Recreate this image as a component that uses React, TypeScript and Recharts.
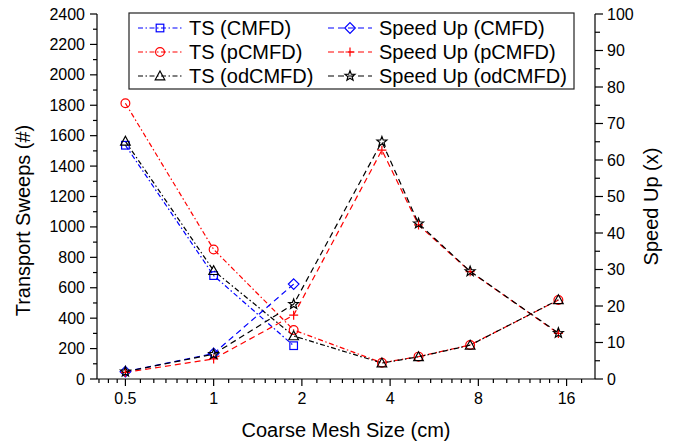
import React from 'react';
import { ComposedChart, Line, XAxis, YAxis, Customized } from 'recharts';

// coarse mesh sizes (cm)
const meshSizes = [0.5, 1, 1.875, 3.75, 5, 7.5, 15];

// transport sweeps (#)
const tsCmfd = [1537, 680, 219];
const tsPcmfd = [1813, 852, 322, 107, 147, 224, 519];
const tsOdcmfd = [1563, 712, 283, 105, 146, 222, 521];

// speed up (x)
const spCmfd = [2.0, 7.0, 26.0];
const spPcmfd = [1.8, 5.5, 17.5, 62.7, 42.2, 29.4, 12.5];
const spOdcmfd = [2.0, 6.8, 20.5, 65.0, 42.6, 29.5, 12.6];

const xTickLabels = [0.5, 1, 2, 4, 8, 16];
const leftTickLabels = [0, 200, 400, 600, 800, 1000, 1200, 1400, 1600, 1800, 2000, 2200, 2400];
const rightTickLabels = [0, 10, 20, 30, 40, 50, 60, 70, 80, 90, 100];

const xDomain = [0.4, 20];

const FONT = '"Liberation Sans", Arial, Helvetica, sans-serif';
const DASH_DOT = '5 2.5 1.5 2.5';
const DASHED = '6 4';

const data = meshSizes.map((x, i) => ({
  x,
  tsCmfd: tsCmfd[i] ?? null,
  tsPcmfd: tsPcmfd[i] ?? null,
  tsOdcmfd: tsOdcmfd[i] ?? null,
  spCmfd: spCmfd[i] ?? null,
  spPcmfd: spPcmfd[i] ?? null,
  spOdcmfd: spOdcmfd[i] ?? null,
}));

// minor ticks: 7 per octave on x, halfway on the y axes
const xMinor: number[] = [];
[0.25, 0.5, 1, 2, 4, 8, 16].forEach((b) => {
  for (let k = 1; k < 8; k++) {
    const v = b * (1 + k / 8);
    if (v > xDomain[0] && v < xDomain[1]) xMinor.push(v);
  }
});
const xTicks = [...xTickLabels, ...xMinor].sort((a, b) => a - b);
const leftTicks = [...leftTickLabels, ...leftTickLabels.slice(0, -1).map((v) => v + 100)].sort((a, b) => a - b);
const rightTicks = [...rightTickLabels, ...rightTickLabels.slice(0, -1).map((v) => v + 5)].sort((a, b) => a - b);

type Shape = 'square' | 'circle' | 'triangle' | 'diamond' | 'plus' | 'star';

const series: { key: string; name: string; axis: string; color: string; dash: string; shape: Shape }[] = [
  { key: 'tsCmfd', name: 'TS (CMFD)', axis: 'left', color: '#0000ff', dash: DASH_DOT, shape: 'square' },
  { key: 'tsPcmfd', name: 'TS (pCMFD)', axis: 'left', color: '#ff0000', dash: DASH_DOT, shape: 'circle' },
  { key: 'tsOdcmfd', name: 'TS (odCMFD)', axis: 'left', color: '#000000', dash: DASH_DOT, shape: 'triangle' },
  { key: 'spCmfd', name: 'Speed Up (CMFD)', axis: 'right', color: '#0000ff', dash: DASHED, shape: 'diamond' },
  { key: 'spPcmfd', name: 'Speed Up (pCMFD)', axis: 'right', color: '#ff0000', dash: DASHED, shape: 'plus' },
  { key: 'spOdcmfd', name: 'Speed Up (odCMFD)', axis: 'right', color: '#000000', dash: DASHED, shape: 'star' },
];

const Marker = ({ cx, cy, shape, color }: { cx: number; cy: number; shape: Shape; color: string }) => {
  const p = { fill: 'none', stroke: color, strokeWidth: 1.2 };
  switch (shape) {
    case 'square':
      return <rect x={cx - 3.8} y={cy - 3.8} width={7.6} height={7.6} {...p} />;
    case 'circle':
      return <circle cx={cx} cy={cy} r={4.4} {...p} />;
    case 'triangle':
      return <path d={`M${cx},${cy - 5} L${cx + 4.8},${cy + 3.8} L${cx - 4.8},${cy + 3.8} Z`} {...p} />;
    case 'diamond':
      return <path d={`M${cx},${cy - 5.3} L${cx + 5.3},${cy} L${cx},${cy + 5.3} L${cx - 5.3},${cy} Z`} {...p} />;
    case 'plus':
      return <path d={`M${cx - 4.5},${cy} H${cx + 4.5} M${cx},${cy - 4.5} V${cy + 4.5}`} {...p} />;
    case 'star': {
      const pts: string[] = [];
      for (let i = 0; i < 10; i++) {
        const r = i % 2 === 0 ? 5.2 : 2.2;
        const a = -Math.PI / 2 + (i * Math.PI) / 5;
        pts.push(`${cx + r * Math.cos(a)},${cy + r * Math.sin(a)}`);
      }
      return <polygon points={pts.join(' ')} {...p} />;
    }
  }
  return null;
};

const makeDot = (shape: Shape, color: string) => (props: any) => {
  const { cx, cy, index } = props;
  if (cx == null || cy == null || props.value == null) return <g key={`d-${index}`} />;
  return (
    <g key={`d-${index}`}>
      <Marker cx={cx} cy={cy} shape={shape} color={color} />
    </g>
  );
};

const BottomTick = (props: any) => {
  const { x, y, payload } = props;
  const major = xTickLabels.includes(payload.value);
  return (
    <g>
      <line x1={x} x2={x} y1={y} y2={y + (major ? 7 : 4)} stroke="#000" strokeWidth={1.2} />
      {major && (
        <text x={x} y={y + 19} textAnchor="middle" dominantBaseline="central" fontSize={16} fontFamily={FONT} fill="#000">
          {payload.value}
        </text>
      )}
    </g>
  );
};

const LeftTick = (props: any) => {
  const { x, y, payload } = props;
  const major = leftTickLabels.includes(payload.value);
  return (
    <g>
      <line x1={x} x2={x - (major ? 7 : 4)} y1={y} y2={y} stroke="#000" strokeWidth={1.2} />
      {major && (
        <text x={x - 12} y={y} textAnchor="end" dominantBaseline="central" fontSize={16} fontFamily={FONT} fill="#000">
          {payload.value}
        </text>
      )}
    </g>
  );
};

const RightTick = (props: any) => {
  const { x, y, payload } = props;
  const major = rightTickLabels.includes(payload.value);
  return (
    <g>
      <line x1={x} x2={x + (major ? 8 : 5)} y1={y} y2={y} stroke="#000" strokeWidth={1.2} />
      {major && (
        <text x={x + 12} y={y} textAnchor="start" dominantBaseline="central" fontSize={16} fontFamily={FONT} fill="#000">
          {payload.value}
        </text>
      )}
    </g>
  );
};

const title = (text: string, fx: (vb: any) => [number, number], angle = 0) => (props: any) => {
  const [tx, ty] = fx(props.viewBox);
  return (
    <text
      x={tx}
      y={ty}
      textAnchor="middle"
      dominantBaseline="central"
      fontSize={20}
      fontFamily={FONT}
      fill="#000"
      transform={angle ? `rotate(${angle}, ${tx}, ${ty})` : undefined}
    >
      {text}
    </text>
  );
};

const LegendBox = () => {
  const box = { x: 129, y: 13, w: 445, h: 76 };
  const cols = [138, 328];
  const rowY = [28, 52, 76];
  return (
    <g>
      <rect x={box.x} y={box.y} width={box.w} height={box.h} fill="#fff" stroke="#222" strokeWidth={1.2} />
      {series.map((s, i) => {
        const col = Math.floor(i / 3);
        const x0 = cols[col];
        const y = rowY[i % 3];
        return (
          <g key={s.key}>
            <line x1={x0} x2={x0 + 44} y1={y} y2={y} stroke={s.color} strokeWidth={1.2} strokeDasharray={s.dash} />
            <Marker cx={x0 + 22} cy={y} shape={s.shape} color={s.color} />
            <text x={x0 + 51} y={y} dominantBaseline="central" fontSize={20} fontFamily={FONT} fill="#000">
              {s.name}
            </text>
          </g>
        );
      })}
    </g>
  );
};

export default function App() {
  return (
    <div style={{ position: 'absolute', left: 0, top: 0, background: '#fff' }}>
      <ComposedChart width={688} height={445} data={data} margin={{ top: 14, right: 33, bottom: 30, left: 5 }}>
        <XAxis
          dataKey="x"
          type="number"
          scale="log"
          domain={xDomain}
          allowDataOverflow
          ticks={xTicks}
          interval={0}
          tickLine={false}
          tickSize={0}
          tickMargin={0}
          tick={<BottomTick />}
          height={36}
          axisLine={{ stroke: '#000', strokeWidth: 1.2 }}
          label={{ content: title('Coarse Mesh Size (cm)', (vb) => [vb.x + vb.width / 2, vb.y + 51]) }}
        />
        <YAxis
          yAxisId="left"
          orientation="left"
          domain={[0, 2400]}
          ticks={leftTicks}
          interval={0}
          width={92}
          tickLine={false}
          tickSize={0}
          tickMargin={0}
          tick={<LeftTick />}
          axisLine={{ stroke: '#000', strokeWidth: 1.2 }}
          label={{ content: title('Transport Sweeps (#)', (vb) => [vb.x + 18, vb.y + vb.height / 2 + 24], -90) }}
        />
        <YAxis
          yAxisId="right"
          orientation="right"
          domain={[0, 100]}
          ticks={rightTicks}
          interval={0}
          width={60}
          tickLine={false}
          tickSize={0}
          tickMargin={0}
          tick={<RightTick />}
          axisLine={{ stroke: '#000', strokeWidth: 1.2 }}
          label={{ content: title('Speed Up (x)', (vb) => [vb.x + 56, vb.y + vb.height / 2 + 10], -90) }}
        />
        {series.map((s) => (
          <Line
            key={s.key}
            yAxisId={s.axis}
            dataKey={s.key}
            name={s.name}
            type="linear"
            stroke={s.color}
            strokeWidth={1.2}
            strokeDasharray={s.dash}
            dot={makeDot(s.shape, s.color)}
            activeDot={false}
            connectNulls={false}
            isAnimationActive={false}
          />
        ))}
        <Customized component={LegendBox} />
      </ComposedChart>
    </div>
  );
}
